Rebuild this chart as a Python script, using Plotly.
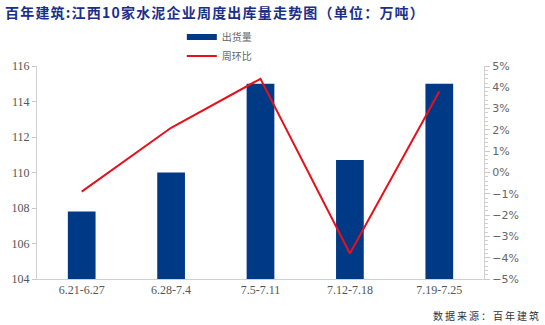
import plotly.graph_objects as go

categories = ["6.21-6.27", "6.28-7.4", "7.5-7.11", "7.12-7.18", "7.19-7.25"]
shipments = [107.8, 110.0, 115.0, 110.7, 115.0]   # 出货量 (万吨)
wow_pct = [-0.9, 2.1, 4.4, -3.8, 3.8]             # 周环比 (%)

title_text = "百年建筑:江西10家水泥企业周度出库量走势图（单位：万吨）"
source_text = "数据来源：百年建筑"

def spaced(s, sp="\u2009"):
    return sp.join(list(s))

small_gap = "<span style='font-size:6px'>\u2009</span>"

fig = go.Figure()
fig.add_trace(go.Bar(
    x=categories, y=shipments, name="出货量",
    marker=dict(color="#003a87", line=dict(width=0)),
    yaxis="y", showlegend=False,
))
# legend-only entry to show the wide bar swatch
fig.add_trace(go.Scatter(
    x=[None], y=[None], name="出货量", mode="lines",
    line=dict(color="#003a87", width=6),
))
fig.add_trace(go.Scatter(
    x=categories, y=wow_pct, name="周环比", mode="lines",
    line=dict(color="#e8101a", width=2),
    yaxis="y2",
))

fig.update_layout(
    width=545, height=325,
    margin=dict(l=37, r=61, t=66, b=46),
    paper_bgcolor="white", plot_bgcolor="white",
    bargap=0.69,
    showlegend=True,
    legend=dict(
        x=0.324, y=1.204, xanchor="left", yanchor="top",
        orientation="v", bgcolor="rgba(0,0,0,0)",
        font=dict(family="Noto Sans CJK SC", size=10, color="#666666"),
        tracegroupgap=0,
    ),
    title=dict(
        text="<b>" + spaced(title_text, small_gap) + "</b>",
        xref="container", yref="container",
        x=5/545, xanchor="left", y=1-13/325, yanchor="middle",
        font=dict(family="Noto Sans CJK SC", size=14, color="#1a2f8a"),
    ),
    xaxis=dict(
        type="category",
        showline=True, linecolor="#d0d0d0", linewidth=1,
        ticks="", showgrid=False,
        tickfont=dict(family="Liberation Serif", size=12, color="#555555"),
    ),
    yaxis=dict(
        range=[104, 116], dtick=2, tick0=104,
        showline=True, linecolor="#d0d0d0", linewidth=1,
        ticks="outside", ticklen=4, tickcolor="#c8c8c8",
        showgrid=False, zeroline=False,
        tickfont=dict(family="Liberation Serif", size=12, color="#555555"),
    ),
    yaxis2=dict(
        range=[-5, 5], dtick=1, tick0=-5, overlaying="y", side="right",
        ticksuffix="%",
        showline=True, linecolor="#d0d0d0", linewidth=1,
        ticks="outside", ticklen=5, tickcolor="#c8c8c8",
        minor=dict(dtick=0.2, ticks="outside", ticklen=3, tickcolor="#d0d0d0"),
        showgrid=False, zeroline=False,
        tickfont=dict(family="DejaVu Sans", size=11, color="#666666"),
    ),
    annotations=[dict(
        text=spaced(source_text), xref="paper", yref="paper",
        x=1 + (541-484)/447, xanchor="right",
        y=-(315-279)/213, yanchor="middle",
        showarrow=False,
        font=dict(family="Noto Sans CJK SC", size=10, color="#333333"),
    )],
)

fig.write_html("out.html")
